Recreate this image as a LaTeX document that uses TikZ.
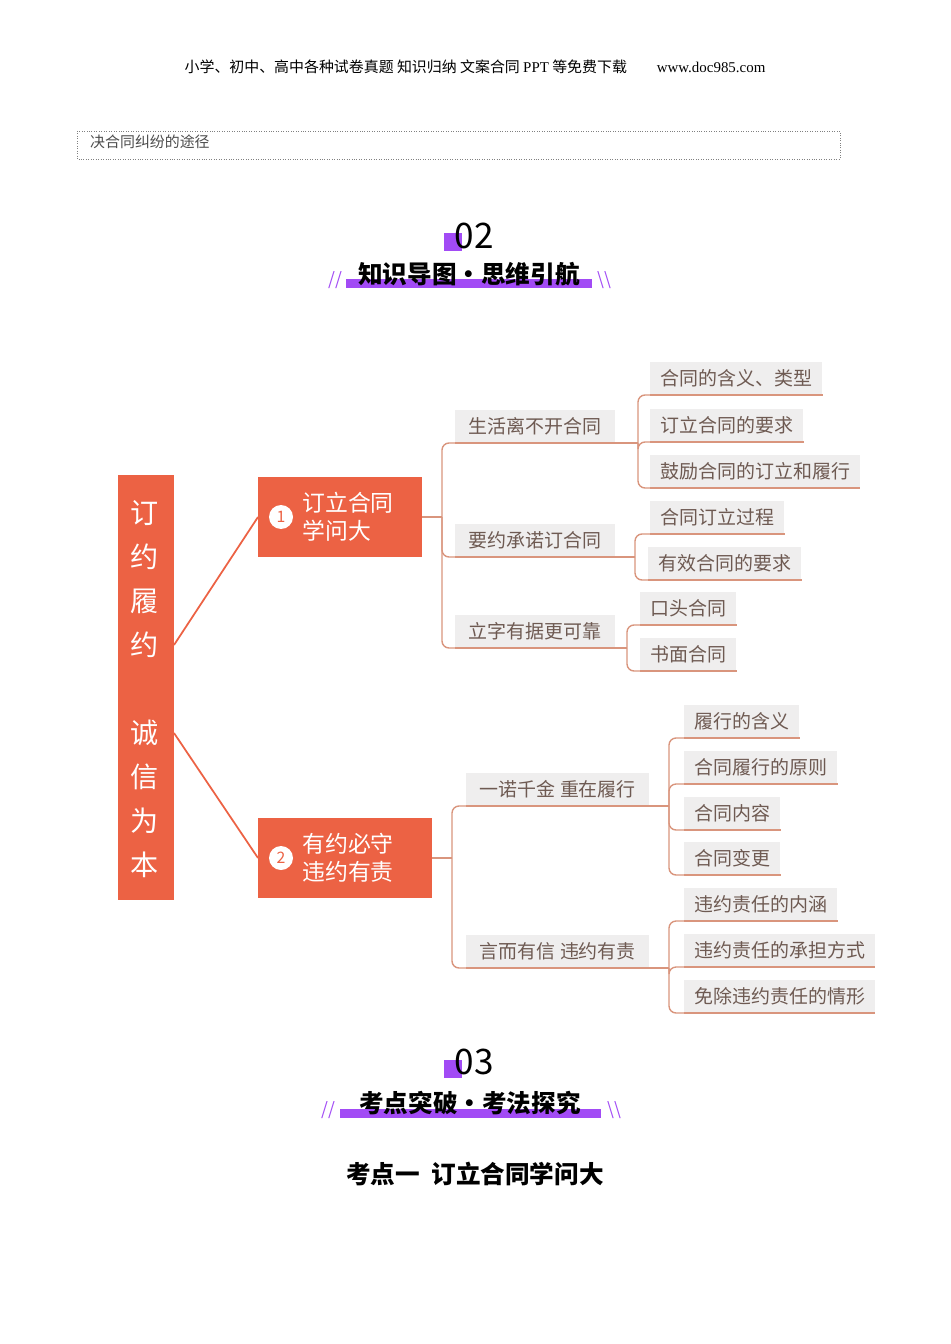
\documentclass[tikz,border=0pt]{standalone}
\usepackage{fontspec}
\setmainfont{Noto Sans CJK SC}
\newfontfamily\serifcjk{Liberation Serif}
\usetikzlibrary{positioning}
\definecolor{mainorange}{HTML}{EC6244}
\definecolor{linkbrown}{HTML}{D9957D}
\definecolor{leafgray}{HTML}{EFEEEE}
\definecolor{leaftext}{HTML}{6E5A52}
\definecolor{titlepurple}{HTML}{A24BF5}
\tikzset{
  leaf/.style={fill=leafgray, text=leaftext, anchor=south west, inner xsep=0.2cm,
    minimum height=0.66cm, font=\fontsize{10.8}{12}\selectfont},
  midleaf/.style={leaf, inner xsep=0.27cm},
  topic/.style={fill=mainorange, text=white, anchor=north west, align=left,
    inner sep=0pt, font=\fontsize{13}{16}\selectfont},
  link/.style={draw=linkbrown, line width=0.8pt, rounded corners=4pt},
  badge/.style={circle, fill=white, text=mainorange, inner sep=0pt, minimum size=0.48cm,
    font=\fontsize{9}{10}\selectfont}
}
\newcommand{\uline}[1]{\draw[link] (#1.south west) -- (#1.south east);}
\begin{document}
\begin{tikzpicture}[x=0.02cm, y=-0.02cm]
\useasboundingbox (0,0) rectangle (950,1344);
% header
\node (head) at (475,67) {\fontsize{8.5}{10}\selectfont 小学、初中、高中各种试卷真题\ 知识归纳\ 文案合同\ {\serifcjk PPT} 等免费下载\qquad {\serifcjk www.doc985.com}};
\draw[gray, densely dotted] (77,131) rectangle (840,159);
\node[anchor=west, text=black!70, font=\fontsize{8.5}{10}\selectfont] (crop) at (84,142) {决合同纠纷的途径};
% section 02
\fill[titlepurple] (444,233) rectangle (462,251);
\node (num2) at (474,236) {\fontsize{20}{22}\selectfont 02};
\fill[titlepurple] (346,279) rectangle (592,288);
\node (title2) at (469,274) {\fontsize{14}{16}\selectfont\bfseries 知识导图•思维引航};
\node[text=titlepurple] (sl2a) at (335,280) {\itshape //};
\node[text=titlepurple] (sl2b) at (604,280) {\itshape\textbackslash\textbackslash};
% root
\fill[mainorange] (118,475) rectangle (174,900);
\foreach \ch [count=\i] in {订,约,履,约} {
  \node[text=white, font=\fontsize{16}{18}\selectfont] at (145,469+44*\i) {\ch};
}
\foreach \ch [count=\i] in {诚,信,为,本} {
  \node[text=white, font=\fontsize{16}{18}\selectfont] at (145,689+44*\i) {\ch};
}
\coordinate (root1) at (174,645);
\coordinate (root2) at (174,733);
% topics
\fill[mainorange] (258,477) rectangle (422,557);
\node[badge] (b1) at (281,517) {1};
\node[topic, anchor=west] (t1) at (302,517) {订立合同\\学问大};
\fill[mainorange] (258,818) rectangle (432,898);
\node[badge] (b2) at (281,858) {2};
\node[topic, anchor=west] (t2) at (302,858) {有约必守\\违约有责};
\draw[mainorange, line width=1pt] (root1) -- (258,517);
\draw[mainorange, line width=1pt] (root2) -- (258,858);
% level 2
\node[midleaf] (a1) at (455,443) {生活离不开合同};
\node[midleaf] (a2) at (455,557) {要约承诺订合同};
\node[midleaf] (a3) at (455,648) {立字有据更可靠};
\node[midleaf] (c1) at (466,806) {一诺千金\ 重在履行};
\node[midleaf] (c2) at (466,968) {言而有信\ 违约有责};
% level 3
\node[leaf] (a11) at (650,395) {合同的含义、类型};
\node[leaf] (a12) at (650,442) {订立合同的要求};
\node[leaf] (a13) at (650,488) {鼓励合同的订立和履行};
\node[leaf] (a21) at (650,534) {合同订立过程};
\node[leaf] (a22) at (648,580) {有效合同的要求};
\node[leaf] (a31) at (640,625) {口头合同};
\node[leaf] (a32) at (640,671) {书面合同};
\node[leaf] (c11) at (684,738) {履行的含义};
\node[leaf] (c12) at (684,784) {合同履行的原则};
\node[leaf] (c13) at (684,830) {合同内容};
\node[leaf] (c14) at (684,875) {合同变更};
\node[leaf] (c21) at (684,921) {违约责任的内涵};
\node[leaf] (c22) at (684,967) {违约责任的承担方式};
\node[leaf] (c23) at (684,1013) {免除违约责任的情形};
\foreach \n in {a1,a2,a3,c1,c2,a11,a12,a13,a21,a22,a31,a32,c11,c12,c13,c14,c21,c22,c23} {
  \uline{\n}
}
% links
\draw[link] (422,517) -- (442,517) coordinate (k1);
\foreach \n in {a1,a2,a3} { \draw[link] (k1) |- (\n.south west); }
\draw[link] (432,858) -- (452,858) coordinate (k2);
\foreach \n in {c1,c2} { \draw[link] (k2) |- (\n.south west); }
\coordinate (j1) at (638,443);
\draw[link] (a1.south east) -- (j1);
\foreach \n in {a11,a12,a13} { \draw[link] (j1) |- (\n.south west); }
\coordinate (j2) at (635,557);
\draw[link] (a2.south east) -- (j2);
\foreach \n in {a21,a22} { \draw[link] (j2) |- (\n.south west); }
\coordinate (j3) at (627,648);
\draw[link] (a3.south east) -- (j3);
\foreach \n in {a31,a32} { \draw[link] (j3) |- (\n.south west); }
\coordinate (j4) at (669,806);
\draw[link] (c1.south east) -- (j4);
\foreach \n in {c11,c12,c13,c14} { \draw[link] (j4) |- (\n.south west); }
\coordinate (j5) at (669,968);
\draw[link] (c2.south east) -- (j5);
\foreach \n in {c21,c22,c23} { \draw[link] (j5) |- (\n.south west); }
% section 03
\fill[titlepurple] (444,1060) rectangle (462,1078);
\node (num3) at (474,1062) {\fontsize{20}{22}\selectfont 03};
\fill[titlepurple] (340,1109) rectangle (601,1118);
\node (title3) at (470,1103) {\fontsize{14}{16}\selectfont\bfseries 考点突破•考法探究};
\node[text=titlepurple] (sl3a) at (328,1110) {\itshape //};
\node[text=titlepurple] (sl3b) at (614,1110) {\itshape\textbackslash\textbackslash};
\node (point1) at (475,1174) {\fontsize{14}{16}\selectfont\bfseries 考点一\ \ 订立合同学问大};
\end{tikzpicture}
\end{document}
